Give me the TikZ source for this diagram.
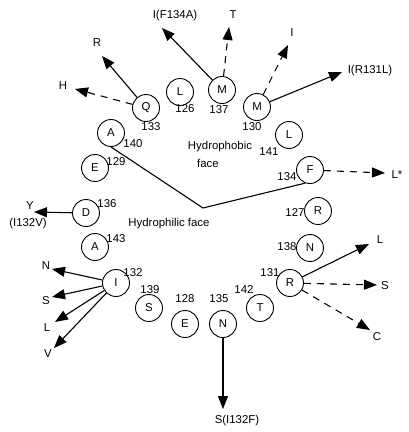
\documentclass[tikz,border=0pt]{standalone}
\usepackage{fontspec}
\setmainfont{Liberation Sans}
\usepackage{tikz}
\usetikzlibrary{positioning,arrows.meta,calc}

\begin{document}
\begin{tikzpicture}[x=1pt,y=-1pt,
  every node/.style={font=\fontsize{11.4}{13}\selectfont,inner sep=0pt},
  res/.style={draw,circle,minimum size=27pt,line width=0.9pt},
  >={Triangle[length=13pt,width=10pt]},
  every path/.style={line width=1.1pt},
  dsh/.style={dash pattern=on 7pt off 6pt}]

  \useasboundingbox (0,0) rectangle (409,432);

  % residues of the wheel
  \node[res] (q133) at (146,108) {Q};
  \node[res] (l126) at (180,92) {L};
  \node[res] (m137) at (222,90) {M};
  \node[res] (m130) at (257,107) {M};
  \node[res] (l141) at (289,135) {L};
  \node[res] (f134) at (310,170) {F};
  \node[res] (r127) at (318,211) {R};
  \node[res] (n138) at (310,248) {N};
  \node[res] (r131) at (290,283) {R};
  \node[res] (t142) at (260,308) {T};
  \node[res] (n135) at (223,324) {N};
  \node[res] (e128) at (185,324) {E};
  \node[res] (s139) at (149,308) {S};
  \node[res] (i132) at (116,283) {I};
  \node[res] (a143) at (95,247) {A};
  \node[res] (d136) at (86,213) {D};
  \node[res] (e129) at (95,168) {E};
  \node[res] (a140) at (111,133) {A};

  % numbers
  \node[] (k133) at (151,127) {133};
  \node[] (k126) at (185,109) {126};
  \node[] (k137) at (219,110) {137};
  \node[] (k130) at (252,127) {130};
  \node[] (k141) at (269,152) {141};
  \node[] (k134) at (287,177) {134};
  \node[] (k127) at (295,213) {127};
  \node[] (k138) at (287,247) {138};
  \node[] (k131) at (270,273) {131};
  \node[] (k142) at (244,290) {142};
  \node[] (k135) at (219,299) {135};
  \node[] (k128) at (185,299) {128};
  \node[] (k139) at (150,290) {139};
  \node[] (k132) at (133,273) {132};
  \node[] (k143) at (116,239) {143};
  \node[] (k136) at (107,204) {136};
  \node[] (k129) at (116,162) {129};
  \node[] (k140) at (133,144) {140};

  % faces
  \node[] (phob1) at (220,147) {Hydrophobic};
  \node[] (phob2) at (208,163) {face};
  \node[] (phil) at (169,224) {Hydrophilic face};
  \coordinate (bend) at (203,208);
  \draw (a140.south) -- (bend) -- (f134.250);

  % arrow ends
  \coordinate (tR) at (102,56);
  \coordinate (tH) at (75,89);
  \coordinate (tF) at (162,28);
  \coordinate (tT) at (229,27);
  \coordinate (tI) at (288,45);
  \coordinate (tRL) at (342,72);
  \coordinate (tLs) at (385,173);
  \coordinate (tY) at (34,212);
  \coordinate (tN) at (52,269);
  \coordinate (tS) at (52,297);
  \coordinate (tL) at (55,322);
  \coordinate (tV) at (54,348);
  \coordinate (tL2) at (369,244);
  \coordinate (tS2) at (377,285);
  \coordinate (tC) at (370,330);
  \coordinate (tSF) at (223,409);

  % substitutions
  \node[] (lR) at (97,43) {R};
  \node[] (lH) at (63,86) {H};
  \node[] (lF) at (175,16) {I(F134A)};
  \node[] (lT) at (233,15) {T};
  \node[] (lI) at (292,33) {I};
  \node[] (lRL) at (370,71) {I(R131L)};
  \node[] (lLs) at (397,175) {L*};
  \node[] (lY) at (30,206) {Y};
  \node[] (lYV) at (28,224) {(I132V)};
  \node[] (lN) at (46,266) {N};
  \node[] (lS) at (46,301) {S};
  \node[] (lL) at (47,328) {L};
  \node[] (lV) at (48,354) {V};
  \node[] (lL2) at (380,240) {L};
  \node[] (lS2) at (385,286) {S};
  \node[] (lC) at (377,337) {C};
  \node[] (lSF) at (237,421) {S(I132F)};

  \path[->] (q133) edge (tR);
  \path[->] (q133) edge[dsh] (tH);
  \path[->] (m137) edge (tF);
  \path[->] (m137) edge[dsh] (tT);
  \path[->] (m130) edge[dsh] (tI);
  \path[->] (m130) edge (tRL);
  \path[->] (f134) edge[dsh] (tLs);
  \path[->] (d136) edge (tY);
  \path[->] (i132) edge (tN);
  \path[->] (i132) edge (tS);
  \path[->] (i132) edge (tL);
  \path[->] (i132) edge (tV);
  \path[->] (r131) edge (tL2);
  \path[->] (r131) edge[dsh] (tS2);
  \path[->] (r131) edge[dsh] (tC);
  \path[->] (n135) edge (tSF);

\end{tikzpicture}
\end{document}
